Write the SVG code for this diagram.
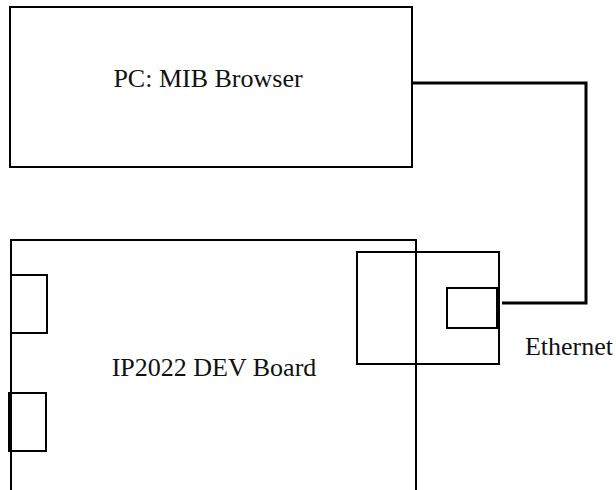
<svg xmlns="http://www.w3.org/2000/svg" width="616" height="490" viewBox="0 0 616 490">
<style>
.box{fill:none;stroke:#000;stroke-width:2}
.wire{fill:none;stroke:#000;stroke-width:3}
.lbl{font-family:"Liberation Serif","Times New Roman",serif;font-size:26px;fill:#111}
</style>
<rect width="616" height="490" fill="#fff"/>
<g id="pc">
<rect class="box" x="10" y="7" width="402" height="160"/>
<text class="lbl" x="208" y="87" text-anchor="middle">PC: MIB Browser</text>
</g>
<g id="board">
<path class="box" d="M11,490 V240 H416 V490"/>
<rect class="box" x="11" y="275" width="36" height="58"/>
<rect class="box" x="9" y="393" width="37" height="58"/>
<text class="lbl" x="214" y="376" text-anchor="middle">IP2022 DEV Board</text>
</g>
<g id="ethernet-module">
<rect class="box" x="357" y="252" width="142" height="112"/>
<rect class="box" x="447" y="288" width="50" height="40"/>
</g>
<g id="ethernet-label">
<text class="lbl" x="569" y="355" text-anchor="middle">Ethernet</text>
</g>
<g id="connectors">
<path class="wire" d="M412,83 H586 V303 H502"/>
</g>
</svg>
